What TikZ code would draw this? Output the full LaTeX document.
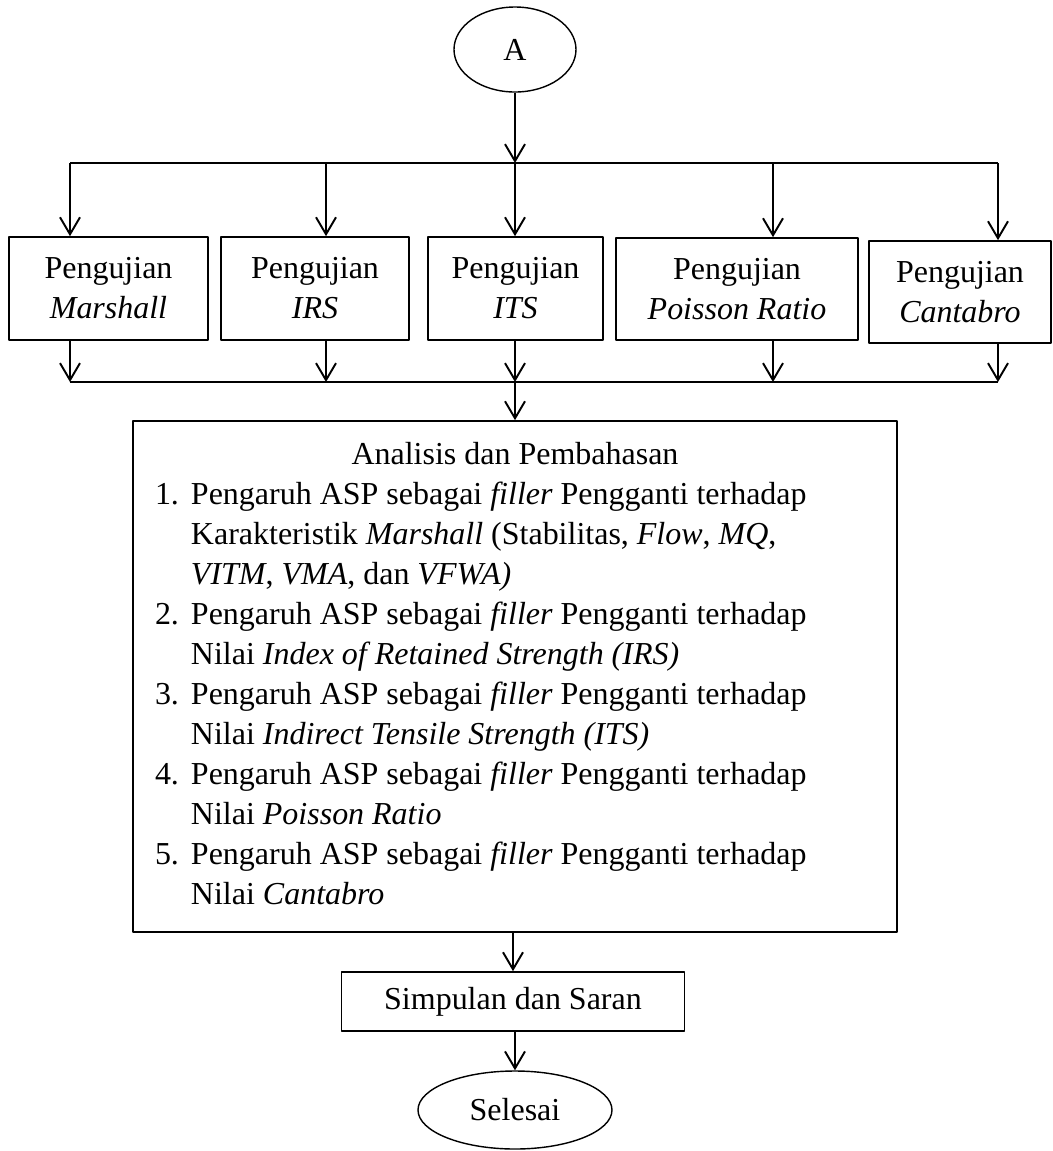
\documentclass[tikz,border=0pt]{standalone}
\usepackage{fontspec}
\setmainfont{Liberation Serif}
\usetikzlibrary{arrows.meta,shapes.geometric}

\begin{document}
\begin{tikzpicture}[>={Straight Barb[length=3.4mm,width=4mm]},line join=round,font=\fontsize{18.2}{22.8}\selectfont,
	kotak/.style={draw,line width=0.95pt,inner sep=0pt,align=center},
	elips/.style={draw,ellipse,line width=0.8pt,inner sep=0pt},
	panah/.style={->,line width=1.1pt},
	garis/.style={line width=0.6pt}]
	\useasboundingbox (0,0) rectangle (21.06,-23.02);
	% awal
	\node[elips,minimum width=2.44cm,minimum height=1.7cm] (A) at (10.30,-0.99) {A};
	% pengujian
	\node[kotak,minimum width=3.98cm,minimum height=2.06cm] (marshall) at (2.17,-5.77) {Pengujian\\\textit{Marshall}};
	\node[kotak,minimum width=3.76cm,minimum height=2.06cm] (irs) at (6.30,-5.77) {Pengujian\\\textit{IRS}};
	\node[kotak,minimum width=3.50cm,minimum height=2.06cm] (its) at (10.31,-5.77) {Pengujian\\\textit{ITS}};
	\node[kotak,minimum width=4.84cm,minimum height=2.04cm] (poisson) at (14.74,-5.78) {Pengujian\\\textit{Poisson Ratio}};
	\node[kotak,minimum width=3.64cm,minimum height=2.04cm] (cantabro) at (19.20,-5.84) {Pengujian\\\textit{Cantabro}};
	% percabangan atas dan bawah
	\coordinate (t1) at (1.40,-3.26);
	\coordinate (t2) at (6.52,-3.26);
	\coordinate (t3) at (10.30,-3.26);
	\coordinate (t4) at (15.46,-3.26);
	\coordinate (t5) at (19.96,-3.26);
	\coordinate (b1) at (1.40,-7.64);
	\coordinate (b2) at (6.52,-7.64);
	\coordinate (b3) at (10.30,-7.64);
	\coordinate (b4) at (15.46,-7.64);
	\coordinate (b5) at (19.96,-7.64);
	\draw[panah] (A) -- (t3);
	\draw[garis] (t1) -- (t5);
	\draw[garis] (b1) -- (b5);
	\foreach \i/\k in {1/marshall,2/irs,3/its,4/poisson,5/cantabro}{
		\draw[panah] (t\i) -- (t\i |- \k.north);
		\draw[panah] (\k.south -| b\i) -- (b\i);
	}
	% analisis
	\node[kotak,minimum width=15.28cm,minimum height=10.22cm] (analisis) at (10.30,-13.53) {%
		\begin{tabular}{@{}p{0.72cm}@{}p{13.68cm}@{}}
			\multicolumn{2}{c}{Analisis dan Pembahasan}\\
			1. & Pengaruh ASP sebagai \textit{filler} Pengganti terhadap\\
			   & Karakteristik \textit{Marshall} (Stabilitas, \textit{Flow}, \textit{MQ},\\
			   & \textit{VITM}, \textit{VMA}, dan \textit{VFWA)}\\
			2. & Pengaruh ASP sebagai \textit{filler} Pengganti terhadap\\
			   & Nilai \textit{Index of Retained Strength (IRS)}\\
			3. & Pengaruh ASP sebagai \textit{filler} Pengganti terhadap\\
			   & Nilai \textit{Indirect Tensile Strength (ITS)}\\
			4. & Pengaruh ASP sebagai \textit{filler} Pengganti terhadap\\
			   & Nilai \textit{Poisson Ratio}\\
			5. & Pengaruh ASP sebagai \textit{filler} Pengganti terhadap\\
			   & Nilai \textit{Cantabro}
		\end{tabular}};
	\draw[panah] (b3) -- (b3 |- analisis.north);
	% akhir
	\node[kotak,minimum width=6.86cm,minimum height=1.18cm] (simpulan) at (10.26,-20.03) {Simpulan dan Saran};
	\node[elips,minimum width=3.88cm,minimum height=1.56cm] (selesai) at (10.30,-22.20) {Selesai};
	\draw[panah] (analisis.south -| simpulan.north) -- (simpulan.north);
	\draw[panah] (simpulan.south -| selesai.north) -- (selesai.north);
\end{tikzpicture}
\end{document}
